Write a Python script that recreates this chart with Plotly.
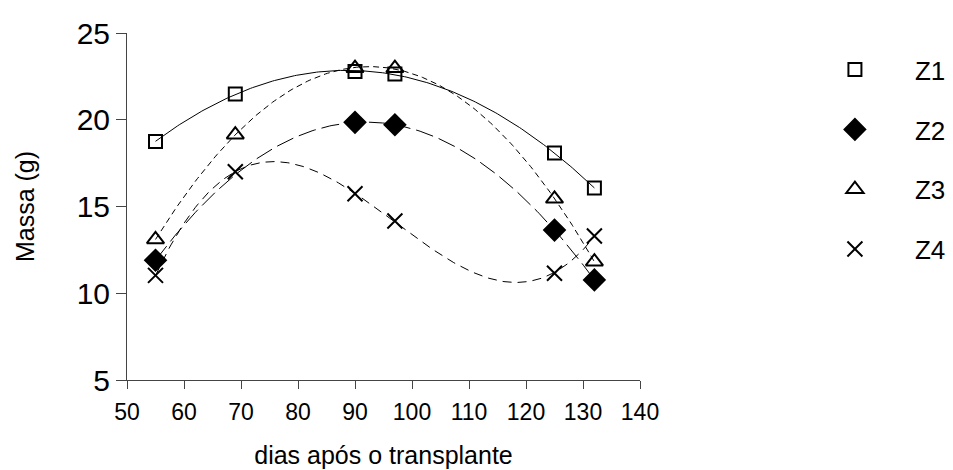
import numpy as np
import plotly.graph_objects as go

dias = [55, 69, 90, 97, 125, 132]
z1 = [18.75, 21.48, 22.78, 22.64, 18.08, 16.07]
z2 = [11.9, None, 19.85, 19.71, 13.64, 10.77]
z3 = [13.1, 19.14, 22.97, 22.97, 15.44, 11.82]
z4 = [11.03, 17.0, 15.73, 14.16, 11.15, 13.3]

series = [
    ("Z1", z1, "square-open", 13, "solid"),
    ("Z2", z2, "diamond", 16, "18px,6px"),
    ("Z3", z3, "triangle-up-open", 15, "6px,4px"),
    ("Z4", z4, "x-thin-open", 15, "9px,6px"),
]

fig = go.Figure()
grid = np.linspace(55, 132, 200)
for name, ys, sym, size, dash in series:
    xs = [d for d, v in zip(dias, ys) if v is not None]
    vs = [v for v in ys if v is not None]
    coef = np.polyfit(xs, vs, 3)
    fig.add_trace(go.Scatter(x=grid, y=np.polyval(coef, grid), mode="lines",
                             line=dict(color="black", width=1, dash=dash),
                             showlegend=False, hoverinfo="skip"))
for name, ys, sym, size, dash in series:
    fig.add_trace(go.Scatter(x=dias, y=ys, mode="markers", name=name,
                             legendgroup=name,
                             marker=dict(symbol=sym, size=size, color="black",
                                         line=dict(color="black", width=2))))

fig.update_layout(
    width=953, height=470,
    margin=dict(l=127, r=313, t=33, b=90, autoexpand=False),
    paper_bgcolor="white", plot_bgcolor="white",
    font=dict(family="Liberation Sans, Arial, sans-serif", color="black"),
    legend=dict(x=1.302, y=0.962, xanchor="left", yanchor="top",
                traceorder="grouped", tracegroupgap=23, itemwidth=110,
                font=dict(size=26), bgcolor="rgba(0,0,0,0)"),
    xaxis=dict(range=[50, 140], tickvals=list(range(50, 141, 10)),
               showgrid=False, zeroline=False, showline=True,
               linecolor="#444", linewidth=1, ticks="outside",
               ticklen=8, tickcolor="#444", tickfont=dict(size=23),
               ticklabelstandoff=3,
               title=dict(text="dias após o transplante", font=dict(size=25), standoff=22)),
    yaxis=dict(range=[5, 25], tickvals=[5, 10, 15, 20, 25],
               showgrid=False, zeroline=False, showline=True,
               linecolor="#444", linewidth=1, ticks="outside",
               ticklen=10, tickcolor="#444", tickfont=dict(size=30),
               title=dict(text="Massa (g)", font=dict(size=25), standoff=34)),
)

fig.write_html("out.html")
